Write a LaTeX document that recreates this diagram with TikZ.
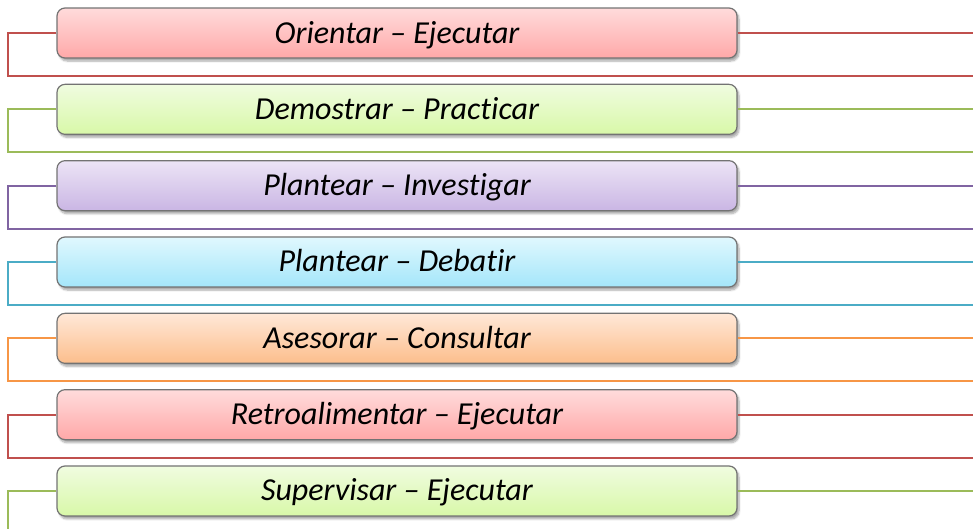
\documentclass[tikz,border=0pt]{standalone}
\usepackage{fontspec}
\setmainfont[RawFeature=-liga]{Carlito}
\usepackage{tikz}
\usetikzlibrary{positioning}
\usetikzlibrary{calc}
\usetikzlibrary{shadows.blur}
\definecolor{lred}{HTML}{C0504D}
\definecolor{lgreen}{HTML}{9BBB59}
\definecolor{lpurple}{HTML}{8064A2}
\definecolor{lblue}{HTML}{4BACC6}
\definecolor{lorange}{HTML}{F79646}
\tikzstyle{block} = [draw=gray!90!black, line width=1.2pt, rounded corners=8pt,
    minimum height=50pt, minimum width=680pt, inner sep=0pt,
    text height=22pt, text depth=2pt,
    font=\fontsize{32}{36}\selectfont\itshape,
    blur shadow={shadow xshift=2pt, shadow yshift=-3pt, shadow opacity=35, shadow blur steps=6}]
\tikzstyle{redblock} = [block, top color=red!14!white, bottom color=red!34!white]
\tikzstyle{greenblock} = [block, top color={rgb,255:red,240;green,252;blue,224}, bottom color={rgb,255:red,216;green,248;blue,168}]
\tikzstyle{purpleblock} = [block, top color={rgb,255:red,236;green,228;blue,246}, bottom color={rgb,255:red,202;green,182;blue,228}]
\tikzstyle{blueblock} = [block, top color={rgb,255:red,224;green,248;blue,254}, bottom color={rgb,255:red,164;green,230;blue,250}]
\tikzstyle{orangeblock} = [block, top color={rgb,255:red,255;green,232;blue,216}, bottom color={rgb,255:red,252;green,190;blue,140}]
\tikzstyle{frame} = [line width=2pt]
\begin{document}
\begin{tikzpicture}[x=1pt, y=-1pt, node distance=76.33pt]
    \useasboundingbox (0,0) rectangle (973,528);
    % We start by placing the blocks
    \node [redblock] at (397,33) (b1) {Orientar – Ejecutar};
    \node [greenblock, below of=b1] (b2) {Demostrar – Practicar};
    \node [purpleblock, below of=b2] (b3) {Plantear – Investigar};
    \node [blueblock, below of=b3] (b4) {Plantear – Debatir};
    \node [orangeblock, below of=b4] (b5) {Asesorar – Consultar};
    \node [redblock, below of=b5] (b6) {Retroalimentar – Ejecutar};
    \node [greenblock, below of=b6] (b7) {Supervisar – Ejecutar};

    % Then the frame lines round each block
    \foreach \i/\c in {1/lred,2/lgreen,3/lpurple,4/lblue,5/lorange,6/lred,7/lgreen} {
        \coordinate (r\i) at (b\i.east -| 973,0);
        \coordinate (l\i) at ($(b\i.west -| 8,0)+(0,43)$);
        \coordinate (e\i) at ($(b\i.west -| 973,0)+(0,43)$);
        \draw [frame, \c] (b\i.east) -- (r\i);
        \draw [frame, \c] (b\i.west) -| (l\i) -- (e\i);
    }
\end{tikzpicture}
\end{document}
